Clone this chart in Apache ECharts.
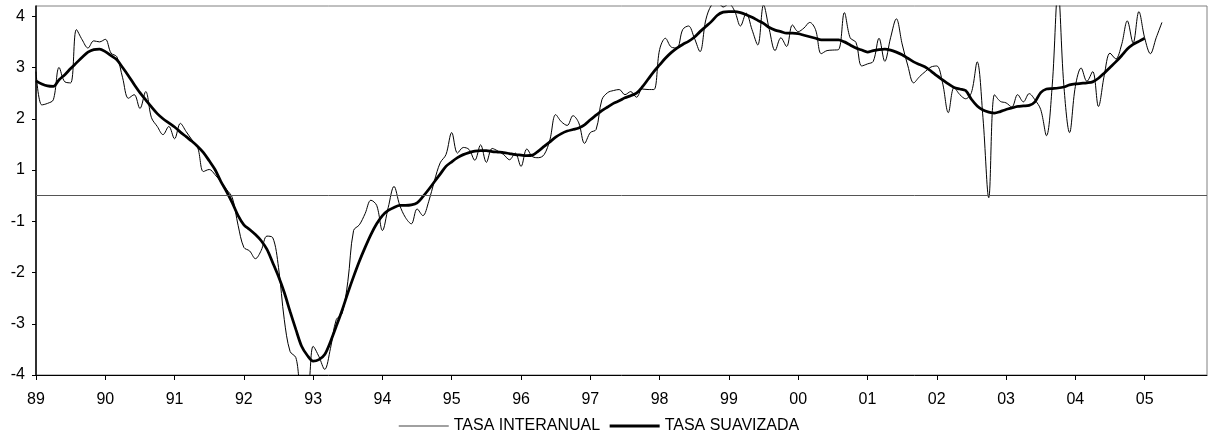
<!DOCTYPE html>
<html>
<head>
<meta charset="utf-8">
<script src="https://cdn.jsdelivr.net/npm/echarts@6/dist/echarts.min.js"></script>
<style>
  html, body { margin: 0; padding: 0; background: #fff; }
  #main { width: 1210px; height: 441px; }
</style>
</head>
<body>
<div id="main"></div>
<script>
// serie mensual, empieza en enero de 1989
var startYear = 1989;

// tasa interanual (valores respecto a la linea central)
var tasaInteranual = [
  2.42, 1.77, 1.80, 1.87, 2.50, 2.22, 2.20, 3.24, 3.04, 2.88, 3.02, 3.00,
  3.05, 2.78, 2.71, 2.30, 1.90, 1.97, 1.70, 2.03, 1.52, 1.35, 1.19, 1.35,
  1.11, 1.41, 1.25, 1.09, 0.94, 0.47, 0.51, 0.41, 0.27, 0.12, -0.04, -0.58,
  -1.01, -1.08, -1.23, -1.07, -0.79, -0.82, -1.40, -2.42, -3.04, -3.16, -3.74, -3.74,
  -2.94, -3.14, -3.39, -2.98, -2.42, -2.30, -1.68, -0.68, -0.57, -0.35, -0.09, -0.19,
  -0.68, -0.23, 0.18, -0.19, -0.43, -0.55, -0.26, -0.39, -0.12, 0.29, 0.64, 0.80,
  1.23, 0.83, 0.94, 0.90, 0.69, 0.99, 0.65, 0.92, 0.87, 0.80, 0.70, 0.83,
  0.57, 0.91, 0.76, 0.74, 0.80, 1.09, 1.58, 1.44, 1.37, 1.56, 1.42, 1.02,
  1.23, 1.29, 1.87, 2.01, 2.05, 2.07, 1.97, 2.03, 1.92, 2.08, 2.07, 2.07,
  2.85, 3.07, 2.90, 2.88, 3.24, 3.31, 3.08, 2.81, 3.43, 3.72, 3.78, 3.68,
  3.74, 3.60, 3.31, 3.56, 3.24, 2.94, 3.72, 3.24, 2.83, 3.08, 2.91, 3.33,
  3.20, 3.27, 3.38, 3.24, 2.77, 2.83, 2.84, 2.85, 3.57, 3.08, 2.99, 2.53,
  2.57, 2.62, 3.07, 2.62, 3.08, 3.45, 2.96, 2.53, 2.20, 2.32, 2.42, 2.51,
  2.53, 2.20, 1.62, 2.11, 1.97, 1.89, 2.01, 2.61, 1.52, -0.04, 1.97, 1.84,
  1.81, 1.73, 1.97, 1.83, 1.99, 1.87, 1.68, 1.17, 2.16, 4.02, 2.16, 1.23,
  2.13, 2.49, 2.23, 2.42, 1.74, 2.34, 2.78, 2.67, 2.94, 3.41, 2.98, 3.59,
  3.08, 2.77, 3.08, 3.38
];

// tasa suavizada
var tasaSuavizada = [
  2.24, 2.18, 2.14, 2.13, 2.26, 2.36, 2.48, 2.59, 2.70, 2.80, 2.85, 2.86,
  2.81, 2.73, 2.65, 2.50, 2.34, 2.17, 2.01, 1.87, 1.73, 1.60, 1.50, 1.42,
  1.34, 1.24, 1.15, 1.06, 0.96, 0.84, 0.68, 0.51, 0.28, 0.08, -0.14, -0.39,
  -0.57, -0.66, -0.76, -0.88, -1.05, -1.31, -1.58, -1.89, -2.26, -2.61, -2.94, -3.12,
  -3.23, -3.20, -3.10, -2.85, -2.55, -2.24, -1.90, -1.58, -1.28, -1.01, -0.76, -0.55,
  -0.39, -0.29, -0.23, -0.19, -0.19, -0.18, -0.14, -0.02, 0.12, 0.27, 0.42, 0.57,
  0.66, 0.74, 0.80, 0.84, 0.87, 0.88, 0.88, 0.86, 0.85, 0.84, 0.82, 0.80,
  0.79, 0.78, 0.79, 0.87, 0.96, 1.05, 1.14, 1.21, 1.26, 1.29, 1.32, 1.38,
  1.48, 1.57, 1.66, 1.73, 1.80, 1.85, 1.91, 1.95, 2.00, 2.12, 2.27, 2.42,
  2.55, 2.68, 2.79, 2.88, 2.95, 3.01, 3.09, 3.20, 3.30, 3.40, 3.52, 3.58,
  3.59, 3.59, 3.57, 3.53, 3.48, 3.42, 3.36, 3.28, 3.23, 3.20, 3.17, 3.17,
  3.16, 3.13, 3.10, 3.07, 3.04, 3.04, 3.04, 3.04, 3.00, 2.94, 2.88, 2.84,
  2.80, 2.83, 2.85, 2.86, 2.84, 2.80, 2.75, 2.68, 2.61, 2.56, 2.51, 2.43,
  2.34, 2.26, 2.18, 2.11, 2.08, 2.05, 1.88, 1.75, 1.67, 1.63, 1.61, 1.64,
  1.68, 1.71, 1.74, 1.75, 1.76, 1.83, 2.01, 2.08, 2.09, 2.10, 2.12, 2.16,
  2.18, 2.19, 2.20, 2.22, 2.29, 2.39, 2.50, 2.61, 2.73, 2.86, 2.95, 3.01,
  3.07
];

// marcas del eje x (años) y del eje y
var yearTicks = [1989, 1990, 1991, 1992, 1993, 1994, 1995, 1996, 1997,
  1998, 1999, 2000, 2001, 2002, 2003, 2004, 2005];
var yTicks = [-3.5, -2.5, -1.5, -0.5, 0.5, 1.5, 2.5, 3.5];

function toPoints(arr) {
  return arr.map(function (v, i) { return [startYear + i / 12, v]; });
}

var chart = echarts.init(document.getElementById('main'), null, { renderer: 'canvas' });

var font = 'Liberation Sans, Arial, sans-serif';

var option = {
  animation: false,
  backgroundColor: '#fff',
  grid: {
    left: 36, right: 3, top: 6, bottom: 66,
    show: true,
    borderColor: '#808080',
    borderWidth: 1
  },
  legend: {
    show: true,
    orient: 'horizontal',
    left: 398,
    top: 418,
    padding: 0,
    itemWidth: 50,
    itemHeight: 14,
    itemGap: 8,
    itemStyle: { opacity: 0 },
    textStyle: { fontFamily: font, fontSize: 16, color: '#000' },
    data: [
      { name: 'TASA INTERANUAL', lineStyle: { color: '#808080', width: 1.5 } },
      { name: 'TASA SUAVIZADA', lineStyle: { color: '#000', width: 3 } }
    ]
  },
  xAxis: {
    type: 'value',
    min: 1989,
    max: 2005.9,
    axisLine: { show: true, onZero: false, lineStyle: { color: '#000', width: 1 } },
    axisTick: { show: true, length: 5, customValues: yearTicks, lineStyle: { color: '#000' } },
    splitLine: { show: false },
    axisLabel: {
      customValues: yearTicks,
      margin: 17,
      fontFamily: font,
      fontSize: 16,
      color: '#000',
      formatter: function (v) {
        var y = Math.round(v) % 100;
        return (y < 10 ? '0' : '') + y;
      }
    }
  },
  yAxis: {
    type: 'value',
    min: -3.5,
    max: 3.7,
    axisLine: { show: true, onZero: false, lineStyle: { color: '#000', width: 1.5 } },
    axisTick: { show: true, length: 4, customValues: yTicks, lineStyle: { color: '#000' } },
    splitLine: { show: false },
    axisLabel: {
      customValues: yTicks,
      margin: 11,
      fontFamily: font,
      fontSize: 16,
      color: '#000',
      formatter: function (v) {
        return String(Math.round(v > 0 ? v + 0.5 : v - 0.5));
      }
    }
  },
  series: [
    {
      name: 'TASA INTERANUAL',
      type: 'line',
      data: toPoints(tasaInteranual),
      showSymbol: false,
      symbol: 'none',
      smooth: 0.35,
      lineStyle: { color: '#000', width: 1 },
      itemStyle: { color: '#808080' },
      markLine: {
        silent: true,
        symbol: ['none', 'none'],
        label: { show: false },
        lineStyle: { color: '#555', width: 1, type: 'solid' },
        data: [{ yAxis: 0 }]
      }
    },
    {
      name: 'TASA SUAVIZADA',
      type: 'line',
      data: toPoints(tasaSuavizada),
      showSymbol: false,
      symbol: 'none',
      smooth: 0.3,
      lineStyle: { color: '#000', width: 2.75 },
      itemStyle: { color: '#000' }
    }
  ]
};

chart.setOption(option);
</script>
</body>
</html>
